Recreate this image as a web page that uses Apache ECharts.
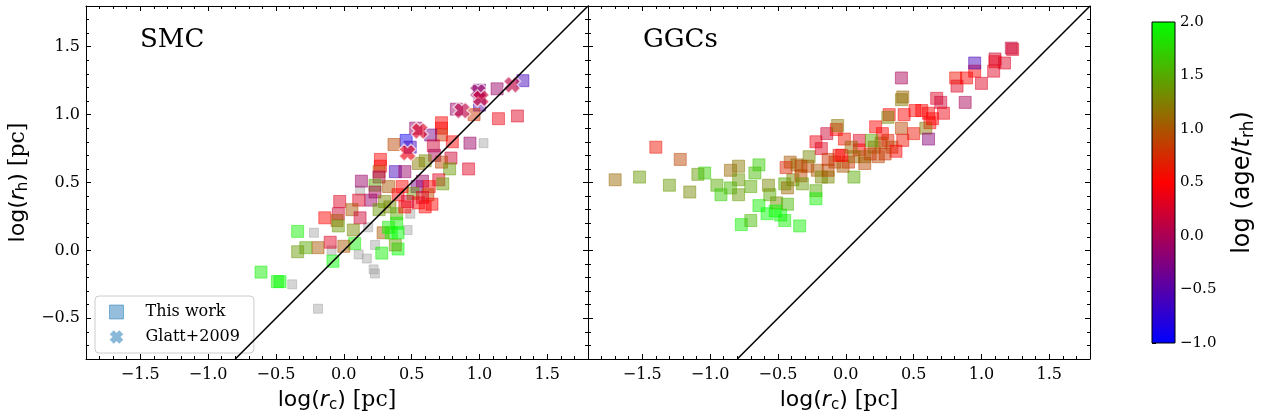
<!DOCTYPE html>
<html>
<head>
<meta charset="utf-8">
<script src="https://cdn.jsdelivr.net/npm/echarts@6/dist/echarts.min.js"></script>
<style>
html, body { margin: 0; padding: 0; background: #fff; }
#chart { width: 1268px; height: 419px; }
</style>
</head>
<body>
<div id="chart"></div>
<script>
// SMC clusters of this work: [log rc, log rh, log(age/trh)]
var smcPoints = [
  [1.32,1.25,-0.6],[1.13,1.19,-0.1],[1.00,1.18,-0.3],[1.00,1.07,-0.5],[0.96,1.00,0.8],
  [0.83,1.04,-0.1],[1.14,0.97,0.4],[1.28,0.99,0.3],[0.72,0.94,0.5],[0.72,0.90,0.5],
  [0.72,0.85,0.8],[0.80,0.80,0.5],[0.53,0.90,-0.1],[0.64,0.85,-0.3],[0.46,0.81,-0.9],
  [0.49,0.76,-0.6],[0.37,0.78,0.9],[0.93,0.79,-0.1],[0.66,0.77,0.2],[0.67,0.70,0.0],
  [0.79,0.68,0.2],[0.92,0.60,0.3],[0.72,0.65,0.9],[0.78,0.60,1.4],[0.27,0.67,0.5],
  [0.27,0.62,0.5],[0.26,0.58,0.9],[0.38,0.58,-0.6],[0.45,0.58,-0.1],[0.55,0.64,1.2],
  [0.60,0.66,1.3],[0.13,0.51,-0.1],[0.26,0.54,0.0],[0.23,0.48,1.5],[0.23,0.43,0.0],
  [0.33,0.47,1.0],[0.40,0.41,0.5],[0.54,0.47,-0.3],[0.58,0.51,-0.1],[0.70,0.52,0.3],
  [0.73,0.49,1.4],[0.63,0.47,0.5],[0.62,0.41,0.9],[0.51,0.42,1.4],[0.55,0.35,0.5],
  [0.47,0.36,0.2],[0.30,0.36,1.3],[0.20,0.37,-0.1],[0.11,0.37,0.3],[-0.03,0.36,0.3],
  [-0.04,0.27,0.2],[-0.14,0.24,0.5],[-0.05,0.22,1.0],[0.06,0.30,1.0],[0.12,0.24,0.2],
  [0.26,0.30,1.4],[0.34,0.32,1.3],[0.39,0.27,1.5],[0.45,0.32,0.5],[-0.04,0.18,1.4],
  [0.07,0.15,1.3],[0.29,0.13,1.0],[0.35,0.13,2.0],[0.39,0.20,1.9],[0.08,0.05,1.9],
  [0.00,0.03,1.0],[-0.10,0.06,0.3],[-0.19,0.02,1.0],[-0.28,0.02,1.5],[-0.34,-0.01,1.4],
  [-0.34,0.14,1.9],[-0.08,-0.08,2.0],[0.28,-0.02,1.9],[0.40,0.01,2.0],[0.38,0.04,1.4],
  [-0.61,-0.16,1.9],[-0.49,-0.23,1.9],[-0.47,-0.23,2.0],[0.40,0.13,2.0],[0.33,0.17,1.9],
  [0.58,0.39,0.3],[0.65,0.34,0.5],[0.60,0.32,0.5],[0.43,0.47,0.5]
];
// SMC clusters without an age (grey)
var smcGrey = [
  [1.03,0.79],[0.12,0.44],[0.18,0.17],[0.47,0.15],[-0.09,0.00],[0.11,-0.03],[0.17,-0.06],
  [0.23,0.04],[0.22,-0.14],[0.23,-0.17],[-0.38,-0.25],[-0.19,-0.43],[0.49,0.27],[-0.22,0.13]
];
// Glatt+2009
var glattPoints = [
  [0.99,1.17,-0.1],[0.56,0.88,0.3],[0.47,0.72,0.4],[0.87,1.03,0.1],[1.01,1.12,0.2],[1.24,1.22,0.1]
];
// Galactic globular clusters
var ggcPoints = [
  [-1.70,0.52,1.1],[-1.52,0.54,1.4],[-1.40,0.76,0.6],[-1.22,0.67,0.9],[-1.30,0.48,1.4],
  [-1.15,0.43,1.3],[-1.09,0.56,1.4],[-1.04,0.57,1.7],[-0.95,0.48,1.5],[-0.92,0.41,1.7],
  [-0.85,0.46,1.6],[-0.85,0.59,1.1],[-0.79,0.62,1.2],[-0.79,0.52,1.4],[-0.79,0.41,1.4],
  [-0.70,0.47,1.5],[-0.67,0.57,1.6],[-0.64,0.63,1.7],[-0.77,0.19,1.9],[-0.70,0.22,1.6],
  [-0.64,0.33,1.9],[-0.58,0.27,2.0],[-0.51,0.35,1.3],[-0.56,0.41,1.5],[-0.57,0.48,1.3],
  [-0.48,0.26,2.0],[-0.45,0.22,1.9],[-0.43,0.34,1.6],[-0.34,0.18,1.9],[-0.52,0.29,2.0],
  [-0.45,0.49,1.5],[-0.43,0.46,1.1],[-0.41,0.65,1.0],[-0.39,0.52,1.3],[-0.44,0.61,0.7],
  [-0.36,0.63,1.1],[-0.33,0.55,0.9],[-0.28,0.62,0.9],[-0.27,0.69,1.3],[-0.32,0.49,1.4],
  [-0.22,0.44,1.5],[-0.22,0.38,1.9],[-0.21,0.59,1.0],[-0.18,0.54,1.3],[-0.22,0.80,0.4],
  [-0.18,0.75,0.3],[-0.14,0.86,0.2],[-0.07,0.89,0.5],[-0.06,0.92,1.2],[-0.13,0.54,1.3],
  [-0.08,0.65,0.9],[-0.05,0.70,0.6],[-0.01,0.82,0.6],[0.06,0.54,1.5],[-0.02,0.62,1.0],
  [0.02,0.65,0.8],[0.10,0.81,0.3],[0.10,0.74,0.5],[0.06,0.69,1.1],[0.14,0.64,0.9],
  [0.18,0.71,0.7],[0.21,0.76,1.0],[0.22,0.91,0.5],[0.24,0.69,0.9],[0.27,0.86,0.5],
  [0.26,0.79,1.0],[0.31,0.81,0.7],[0.32,1.00,0.5],[0.31,0.98,1.3],[0.43,1.00,0.5],
  [0.41,1.11,1.2],[0.42,1.13,1.1],[0.41,1.27,0.0],[0.34,0.76,0.9],[0.41,0.90,0.9],
  [0.37,0.73,0.5],[0.42,0.81,0.6],[0.50,0.86,0.6],[0.56,1.03,0.5],[0.61,1.01,0.5],
  [0.62,0.94,0.5],[0.59,0.90,1.2],[0.61,0.82,-0.2],[0.67,1.12,0.3],[0.70,1.09,0.2],
  [0.72,1.01,0.4],[0.64,0.97,0.5],[0.82,1.21,0.3],[0.81,1.27,0.6],[0.88,1.09,0.0],
  [0.89,1.27,0.5],[0.95,1.32,0.5],[0.95,1.38,-0.6],[1.00,1.23,0.3],[1.09,1.32,0.3],
  [1.10,1.41,0.2],[1.10,1.39,0.4],[1.17,1.38,0.3],[1.22,1.49,0.1],[1.23,1.48,0.3],
  [-0.03,0.70,0.5],[0.04,0.76,1.1],[-0.13,0.67,0.8],[0.19,0.81,1.5],[-0.13,0.59,0.9],
  [-0.33,0.62,0.9],[0.14,0.69,1.1],[0.29,0.71,0.8],[0.51,1.03,0.5]
];
var oneToOne = [-0.8, 1.8];
var xRange = [-1.9, 1.8];
var yRange = [-0.8, 1.8];
var cRange = [-1, 2];
var xMajor = [-1.5, -1.0, -0.5, 0.0, 0.5, 1.0, 1.5];
var yMajor = [-0.5, 0.0, 0.5, 1.0, 1.5];
var xMinor = [-1.9,-1.8,-1.7,-1.6,-1.4,-1.3,-1.2,-1.1,-0.9,-0.8,-0.7,-0.6,-0.4,-0.3,-0.2,-0.1,
  0.1,0.2,0.3,0.4,0.6,0.7,0.8,0.9,1.1,1.2,1.3,1.4,1.6,1.7];
var yMinor = [-0.7,-0.6,-0.4,-0.3,-0.2,-0.1,0.1,0.2,0.3,0.4,0.6,0.7,0.8,0.9,1.1,1.2,1.3,1.4,1.6,1.7];

var serif = 'DejaVu Serif';
var sans = 'DejaVu Sans';

// matplotlib "brg" colormap
function brg(c, a) {
  var t = (c - cRange[0]) / (cRange[1] - cRange[0]);
  t = Math.max(0, Math.min(1, t));
  var r, g, b;
  if (t < 0.5) { r = 2 * t; g = 0; b = 1 - 2 * t; }
  else { r = 2 - 2 * t; g = 2 * t - 1; b = 0; }
  return 'rgba(' + Math.round(r * 255) + ',' + Math.round(g * 255) + ',' + Math.round(b * 255) + ',' + a + ')';
}
function fmt(v) {
  var s = Number(v).toFixed(1);
  return s.charAt(0) === '-' ? '\u2212' + s.slice(1) : s;
}

function richFor(size) {
  return {
    a: { fontFamily: sans, fontSize: size, color: '#000', lineHeight: size + 2, verticalAlign: 'top' },
    i: { fontFamily: sans, fontStyle: 'italic', fontSize: size, color: '#000', lineHeight: size + 2, verticalAlign: 'top' },
    s: { fontFamily: sans, fontSize: Math.round(size * 0.7), color: '#000', lineHeight: Math.round(size * 0.7) + 1,
         padding: [Math.round(size * 0.45), 0, 0, 0], verticalAlign: 'bottom' },
    b: { fontFamily: serif, fontSize: size, color: '#000', lineHeight: size + 2, verticalAlign: 'top' }
  };
}
var line = { show: true, onZero: false, lineStyle: { color: '#000', width: 1 } };

function sideAxes(g, dim, pos, showLabel, name) {
  var range = dim === 'x' ? xRange : yRange;
  var major = dim === 'x' ? xMajor : yMajor;
  var minor = dim === 'x' ? xMinor : yMinor;
  var a = {
    gridIndex: g, type: 'value', position: pos, min: range[0], max: range[1],
    axisLine: line,
    axisTick: { show: true, inside: true, length: 5, customValues: major, lineStyle: { color: '#000' } },
    axisLabel: { show: showLabel, customValues: major, formatter: fmt, margin: dim === 'x' ? 8 : 6, color: '#000', fontFamily: serif, fontSize: 16 },
    splitLine: { show: false }
  };
  if (name) {
    a.name = name;
    a.nameLocation = 'middle';
    a.nameGap = dim === 'x' ? 26 : 55;
    a.nameTextStyle = { rich: richFor(22) };
  }
  var b = {
    gridIndex: g, type: 'value', position: pos, min: range[0], max: range[1],
    axisLine: { show: false, onZero: false },
    axisTick: { show: true, inside: true, length: 3, customValues: minor, lineStyle: { color: '#000' } },
    axisLabel: { show: false },
    splitLine: { show: false }
  };
  return [a, b];
}

var xName = '{a|log(}{i|r}{s|c}{a|)}{b| [pc]}';
var yName = '{a|log(}{i|r}{s|h}{a|)}{b| [pc]}';

var xAxes = [].concat(
  sideAxes(0, 'x', 'bottom', true, xName), sideAxes(0, 'x', 'top', false),
  sideAxes(1, 'x', 'bottom', true, xName), sideAxes(1, 'x', 'top', false),
  [{ gridIndex: 2, type: 'value', min: 0, max: 1, show: false }]
);
var yAxes = [].concat(
  sideAxes(0, 'y', 'left', true, yName), sideAxes(0, 'y', 'right', false),
  sideAxes(1, 'y', 'left', false), sideAxes(1, 'y', 'right', false),
  [{
    gridIndex: 2, type: 'value', position: 'right', min: cRange[0], max: cRange[1], interval: 0.5,
    axisLine: { show: false },
    axisTick: { show: true, inside: false, length: 4, lineStyle: { color: '#000' } },
    axisLabel: { formatter: fmt, margin: 5, color: '#000', fontFamily: serif, fontSize: 15 },
    splitLine: { show: false },
    name: '{a|log (age/}{i|t}{s|rh}{a|)}', nameLocation: 'middle', nameGap: 56,
    nameTextStyle: { rich: richFor(24) }
  }]
);

function squares(pts) {
  return pts.map(function (p) {
    return { value: [p[0], p[1]], itemStyle: { color: brg(p[2], 0.6), borderColor: brg(p[2], 0.6) } };
  });
}
var xMark = 'path://M0,3L3,0L5,2L7,0L10,3L8,5L10,7L7,10L5,8L3,10L0,7L2,5Z';
var legendBlue = 'rgba(31,119,180,0.6)';

var chart = echarts.init(document.getElementById('chart'));
var option = {
  animation: false,
  backgroundColor: '#fff',
  title: [
    { text: 'SMC', left: 135, top: 22, textStyle: { fontFamily: serif, fontSize: 26, fontWeight: 'normal', color: '#000' } },
    { text: 'GGCs', left: 638, top: 22, textStyle: { fontFamily: serif, fontSize: 26, fontWeight: 'normal', color: '#000' } }
  ],
  grid: [
    { left: 86, top: 6, width: 502, height: 353 },
    { left: 588, top: 6, width: 502, height: 353 },
    { left: 1152, top: 22, width: 23, height: 321 }
  ],
  legend: {
    orient: 'vertical', left: 95, top: 296, selectedMode: false,
    itemWidth: 14, itemHeight: 14, itemGap: 9,
    padding: [8, 14, 8, 14],
    backgroundColor: 'rgba(255,255,255,0.8)', borderColor: '#ccc', borderWidth: 1, borderRadius: 4,
    textStyle: { fontFamily: serif, fontSize: 16, color: '#000', padding: [0, 0, 0, 17] },
    data: [
      { name: 'This work', icon: 'rect', itemStyle: { color: legendBlue, borderColor: legendBlue, borderWidth: 1 } },
      { name: 'Glatt+2009', icon: xMark, itemStyle: { color: 'rgba(31,119,180,0.65)', borderColor: 'rgba(255,255,255,0.6)', borderWidth: 1 } }
    ]
  },
  xAxis: xAxes,
  yAxis: yAxes,
  series: [
    {
      name: 'no age', type: 'scatter', xAxisIndex: 0, yAxisIndex: 0, symbol: 'rect', symbolSize: 9,
      itemStyle: { color: 'rgba(160,160,160,0.55)', borderColor: 'rgba(160,160,160,0.55)', borderWidth: 1 },
      data: smcGrey, z: 2
    },
    {
      name: 'This work', type: 'scatter', xAxisIndex: 0, yAxisIndex: 0, symbol: 'rect', symbolSize: 12,
      itemStyle: { color: legendBlue, borderWidth: 1 }, data: squares(smcPoints), z: 3
    },
    {
      name: 'Glatt+2009', type: 'scatter', xAxisIndex: 0, yAxisIndex: 0, symbol: xMark, symbolSize: 17,
      itemStyle: { color: legendBlue, borderColor: 'rgba(255,255,255,0.8)', borderWidth: 1.5 },
      data: glattPoints.map(function (p) {
        return { value: [p[0], p[1]], itemStyle: { color: brg(p[2], 0.8) } };
      }),
      z: 4
    },
    {
      name: 'GGC', type: 'scatter', xAxisIndex: 4, yAxisIndex: 4, symbol: 'rect', symbolSize: 12,
      itemStyle: { borderWidth: 1 }, data: squares(ggcPoints), z: 3
    },
    {
      name: '1:1 SMC', type: 'line', xAxisIndex: 0, yAxisIndex: 0, symbol: 'none', silent: true,
      lineStyle: { color: '#000', width: 1.6 }, data: oneToOne.map(function (v) { return [v, v]; }), z: 5
    },
    {
      name: '1:1 GGC', type: 'line', xAxisIndex: 4, yAxisIndex: 4, symbol: 'none', silent: true,
      lineStyle: { color: '#000', width: 1.6 }, data: oneToOne.map(function (v) { return [v, v]; }), z: 5
    },
    {
      name: 'colorbar', type: 'custom', xAxisIndex: 8, yAxisIndex: 8, silent: true,
      data: [[0, cRange[0], 1, cRange[1]]],
      renderItem: function (params, api) {
        var p0 = api.coord([api.value(0), api.value(3)]);
        var p1 = api.coord([api.value(2), api.value(1)]);
        return {
          type: 'rect',
          shape: { x: p0[0], y: p0[1], width: p1[0] - p0[0], height: p1[1] - p0[1] },
          style: {
            fill: new echarts.graphic.LinearGradient(0, 0, 0, 1, [
              { offset: 0, color: brg(cRange[1], 1) },
              { offset: 0.5, color: brg((cRange[0] + cRange[1]) / 2, 1) },
              { offset: 1, color: brg(cRange[0], 1) }
            ]),
            stroke: '#000', lineWidth: 1
          }
        };
      }
    }
  ]
};
chart.setOption(option);
</script>
</body>
</html>
